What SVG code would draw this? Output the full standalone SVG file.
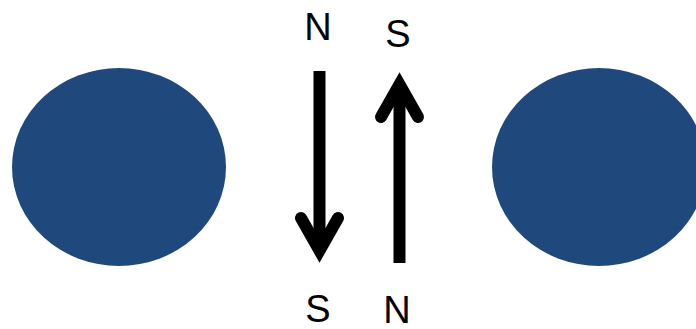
<svg xmlns="http://www.w3.org/2000/svg" width="696" height="329" viewBox="0 0 696 329">
<style>
.ball{fill:#1F497D}
.arr{fill:none;stroke:#000;stroke-width:12}
.head{stroke-linecap:round;stroke-linejoin:miter;stroke-miterlimit:10}
.lbl{font-family:"Liberation Sans",Arial,sans-serif;font-size:38px;fill:#000;text-anchor:middle}
</style>
<rect width="696" height="329" fill="#fff"/>
<g id="magnet-left"><ellipse class="ball" cx="119" cy="167" rx="107" ry="99"/></g>
<g id="magnet-right"><ellipse class="ball" cx="599" cy="167" rx="107" ry="99"/></g>
<g id="connectors">
<g id="arrow-down">
<line class="arr" x1="319.5" y1="71" x2="319.5" y2="248"/>
<polyline class="arr head" points="301,218 319.5,250.6 338,218"/>
</g>
<g id="arrow-up">
<line class="arr" x1="399.5" y1="263" x2="399.5" y2="86"/>
<polyline class="arr head" points="381,117 399.5,84.4 418,117"/>
</g>
</g>
<g id="labels">
<text class="lbl" x="318" y="40">N</text>
<text class="lbl" x="398" y="47">S</text>
<text class="lbl" x="318" y="322">S</text>
<text class="lbl" x="397" y="323">N</text>
</g>
</svg>
